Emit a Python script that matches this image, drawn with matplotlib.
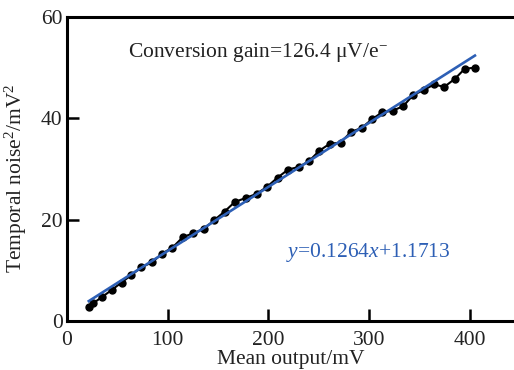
import numpy as np
import matplotlib
matplotlib.use("Agg")
import matplotlib.pyplot as plt

plt.rcParams['font.family'] = ['Liberation Serif', 'DejaVu Serif']
plt.rcParams['mathtext.fontset'] = 'custom'
plt.rcParams['mathtext.rm'] = 'Liberation Serif'
plt.rcParams['mathtext.it'] = 'Liberation Serif:italic'

# measured points (mean output in mV, temporal noise^2 in mV^2)
mean_output = [21.8, 26.1, 35.4, 44.4, 54.3, 64.2, 74.1, 84.7, 94.6, 104.9,
               115.5, 125.5, 136.0, 146.3, 156.6, 166.8, 177.8, 188.4, 198.9, 209.2,
               219.8, 230.1, 240.3, 250.6, 261.2, 271.8, 282.0, 292.6, 302.9, 313.1,
               323.4, 334.0, 343.9, 354.5, 364.7, 374.7, 385.3, 395.2, 405.2]
noise_sq = [2.7, 3.5, 4.8, 6.1, 7.6, 9.1, 10.6, 11.6, 13.3, 14.5,
            16.6, 17.3, 18.2, 19.9, 21.6, 23.5, 24.3, 25.1, 26.5, 28.3,
            29.9, 30.4, 31.5, 33.6, 35.0, 35.2, 37.3, 38.1, 39.8, 41.2,
            41.5, 42.4, 44.6, 45.6, 46.7, 46.2, 47.8, 49.8, 50.0]

slope = 0.1264
intercept = 1.1713

x = np.array(mean_output)
fit = slope * x + intercept

txt = '#222222'
fs = 15.5
fig = plt.figure(figsize=(5.14, 3.70), dpi=100)
ax = fig.add_axes([0.130, 0.1324, 0.87, 0.8216])

ax.plot(x, noise_sq, color='black', lw=1.5, marker='o', ms=5, zorder=2)
ax.plot(x, fit, color='#2d5fb5', lw=1.9, zorder=3)

ax.set_xlim(0, 444)
ax.set_ylim(0, 60)
ax.set_xticks([0, 100, 200, 300, 400])
ax.set_yticks([0, 20, 40, 60])

for s in ['left', 'bottom', 'top']:
    ax.spines[s].set_linewidth(2.2)
ax.spines['right'].set_visible(False)
ax.tick_params(direction='in', length=8.5, width=1.8, labelsize=fs,
               colors='black', labelcolor=txt, top=False, right=False)
ax.tick_params(axis='x', pad=7)
ax.tick_params(axis='y', pad=3)

ax.set_xlabel('Mean output/mV', fontsize=fs, color=txt)
ax.set_ylabel('Temporal noise$^2$/mV$^2$', fontsize=fs, color=txt)
ax.xaxis.set_label_coords(0.5, -0.097)
ax.yaxis.set_label_coords(-0.085, 0.47)

ax.text(60.5, 52.9, r'Conversion gain=126.4 μV/e$^{-}$', fontsize=fs,
        color=txt, va='center', ha='left')
ax.text(218, 13.6, r'$\mathit{y}$=0.1264$\mathit{x}$+1.1713', fontsize=fs,
        color='#2d5fb5', va='center', ha='left')

fig.savefig('out.png', dpi=100)
